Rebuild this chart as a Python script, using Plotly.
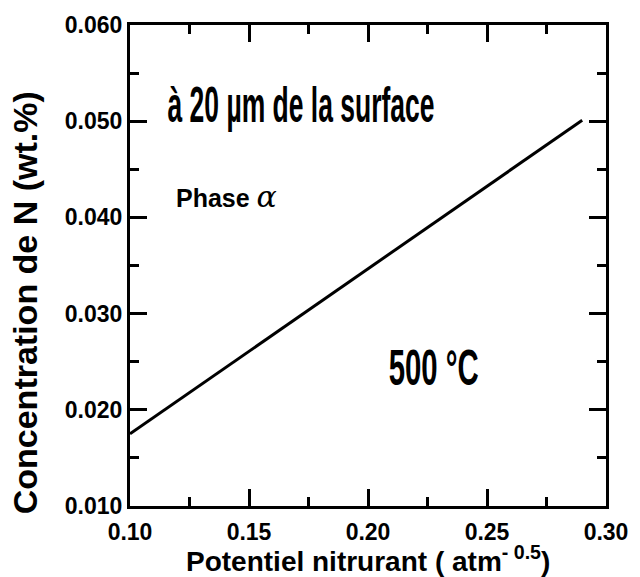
import plotly.graph_objects as go

# Data
potentiel = [0.10, 0.29]          # nitriding potential (atm^-0.5)
concentration = [0.0175, 0.0501]  # N concentration (wt.%)

x_ticks = [0.10, 0.15, 0.20, 0.25, 0.30]
y_ticks = [0.010, 0.020, 0.030, 0.040, 0.050, 0.060]

label_depth = "à 20 µm de la surface"
label_temp = "500 °C"
label_phase = "Phase"
label_alpha = "α"
x_title = "Potentiel nitrurant ( atm<sup>- 0.5</sup>)"
y_title = "Concentration de N (wt.%)"

ARIAL = "Liberation Sans, Arial, sans-serif"

fig = go.Figure()
fig.add_trace(go.Scatter(
    x=potentiel, y=concentration, mode="lines",
    line=dict(color="black", width=3), showlegend=False, hoverinfo="skip"))

axis_common = dict(
    showline=True, linecolor="black", linewidth=3, mirror="allticks",
    ticks="inside", ticklen=17, tickwidth=2.5, tickcolor="black",
    showgrid=False, zeroline=False, ticklabeloverflow="allow",
    tickfont=dict(family=ARIAL, size=23, color="black", weight="bold"),
)

fig.update_xaxes(
    range=[0.10, 0.30], tickvals=x_ticks, tickformat=".2f", ticklabelstandoff=3,
    minor=dict(ticks="inside", ticklen=9, tickwidth=2.5, tickcolor="black", dtick=0.025, tick0=0.10),
    **axis_common)
fig.update_yaxes(
    range=[0.010, 0.060], tickvals=y_ticks, tickformat=".3f", ticklabelstandoff=0,
    minor=dict(ticks="inside", ticklen=9, tickwidth=2.5, tickcolor="black", dtick=0.005, tick0=0.010),
    **axis_common)

# condensed labels (index 0 and 1) -- horizontally compressed after render
fig.add_annotation(x=0.1719, y=0.0517, xref="x", yref="y", text=label_depth,
                   showarrow=False, xanchor="center", yanchor="middle",
                   font=dict(family=ARIAL, size=50, color="black", weight="bold"))
fig.add_annotation(x=0.2277, y=0.0243, xref="x", yref="y", text=label_temp,
                   showarrow=False, xanchor="center", yanchor="middle",
                   font=dict(family=ARIAL, size=50, color="black", weight="bold"))
fig.add_annotation(x=0.1186, y=0.0422, xref="x", yref="y",
                   text=label_phase + " <span style='font-family:DejaVu Serif;font-style:italic;font-weight:normal;font-size:30px'>" + label_alpha + "</span>",
                   showarrow=False, xanchor="left", yanchor="middle",
                   font=dict(family=ARIAL, size=25, color="black", weight="bold"))

fig.add_annotation(x=-0.22, y=0.422, xref="paper", yref="paper", text=y_title,
                   textangle=-90, showarrow=False, xanchor="center", yanchor="middle",
                   font=dict(family=ARIAL, size=34, color="black", weight="bold"))
fig.add_annotation(x=0.5, y=-0.152, xref="paper", yref="paper", text=x_title,
                   showarrow=False, xanchor="center", yanchor="bottom",
                   font=dict(family=ARIAL, size=28, color="black", weight="bold"))

fig.update_layout(
    width=640, height=577,
    margin=dict(l=130, r=22, t=18, b=71),
    plot_bgcolor="white", paper_bgcolor="white",
)

post = """
var gd = document.getElementById('{plot_id}');
var scales = {0: 0.53, 1: 0.587};
Object.keys(scales).forEach(function(k){
  var t = gd.querySelector('.annotation[data-index="' + k + '"] text.annotation-text');
  if (t) {
    t.style.transformBox = 'fill-box';
    t.style.transformOrigin = 'center';
    t.style.transform = 'scaleX(' + scales[k] + ')';
  }
});
"""

fig.write_html("out.html", post_script=post)
